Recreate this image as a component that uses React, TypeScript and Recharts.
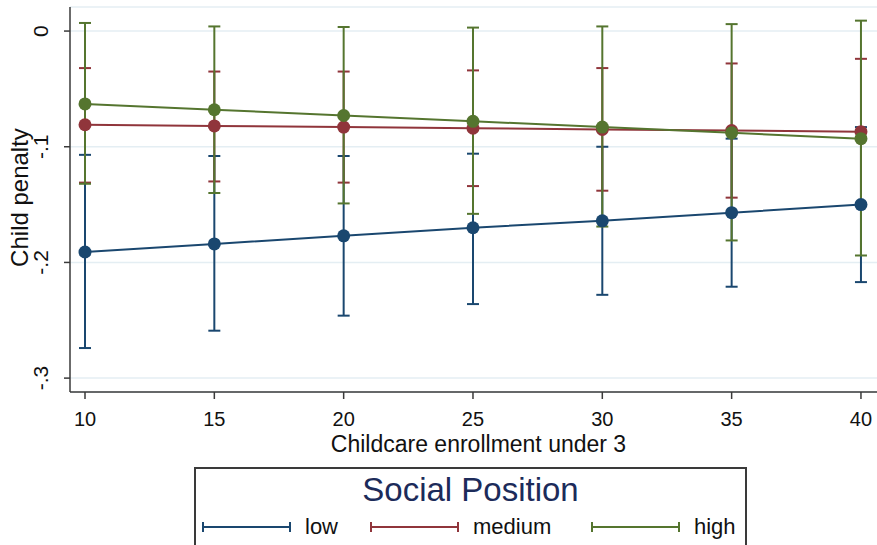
import React from 'react';
import { ComposedChart, Line, XAxis, YAxis, CartesianGrid, ErrorBar } from 'recharts';

const enrollment = [10, 15, 20, 25, 30, 35, 40];

const lowMean = [-0.191, -0.184, -0.177, -0.170, -0.164, -0.157, -0.150];
const lowLower = [-0.274, -0.259, -0.246, -0.236, -0.228, -0.221, -0.217];
const lowUpper = [-0.107, -0.108, -0.108, -0.106, -0.100, -0.093, -0.083];

const mediumMean = [-0.081, -0.082, -0.083, -0.084, -0.085, -0.086, -0.087];
const mediumLower = [-0.131, -0.130, -0.131, -0.134, -0.138, -0.144, -0.150];
const mediumUpper = [-0.032, -0.035, -0.035, -0.034, -0.032, -0.028, -0.024];

const highMean = [-0.063, -0.068, -0.073, -0.078, -0.083, -0.088, -0.093];
const highLower = [-0.132, -0.140, -0.149, -0.158, -0.169, -0.181, -0.194];
const highUpper = [0.007, 0.004, 0.0035, 0.003, 0.004, 0.006, 0.009];

const xTicks = [10, 15, 20, 25, 30, 35, 40];
const yTicks = [-0.3, -0.2, -0.1, 0];
const yTickLabels = ['-.3', '-.2', '-.1', '0'];

const xTitle = 'Childcare enrollment under 3';
const yTitle = 'Child penalty';
const legendTitle = 'Social Position';

const series = [
  { key: 'low', name: 'low', color: '#1a476f', mean: lowMean, lower: lowLower, upper: lowUpper },
  { key: 'medium', name: 'medium', color: '#90353b', mean: mediumMean, lower: mediumLower, upper: mediumUpper },
  { key: 'high', name: 'high', color: '#55752f', mean: highMean, lower: highLower, upper: highUpper },
];

const data = enrollment.map((x, i) => {
  const row: any = { x };
  series.forEach((s) => {
    row[s.key] = s.mean[i];
    row[s.key + 'Err'] = [s.mean[i] - s.lower[i], s.upper[i] - s.mean[i]];
  });
  return row;
});

const FONT = '"Liberation Sans", Arial, Helvetica, sans-serif';
const AXIS = '#3a3a3a';

const XTick = (props: any) => {
  const { x, y, payload } = props;
  return (
    <text x={x} y={y + 27} textAnchor="middle" fontSize={20} fontFamily={FONT} fill="#111">
      {String(payload.value)}
    </text>
  );
};

const YTick = (props: any) => {
  const { x, y, payload } = props;
  const idx = yTicks.findIndex((t) => Math.abs(t - payload.value) < 1e-9);
  const label = idx >= 0 ? yTickLabels[idx] : String(payload.value);
  return (
    <text
      transform={`translate(${x - 16}, ${y}) rotate(-90)`}
      textAnchor="middle"
      fontSize={21}
      fontFamily={FONT}
      fill="#111"
    >
      {label}
    </text>
  );
};

const XLabel = (props: any) => {
  const vb = props.viewBox || { x: 70, y: 392, width: 807, height: 153 };
  return (
    <text x={vb.x + vb.width / 2 + 5} y={vb.y + 60} textAnchor="middle" fontSize={23} fontFamily={FONT} fill="#111">
      {xTitle}
    </text>
  );
};

const YLabel = (props: any) => {
  const vb = props.viewBox || { x: 0, y: 7, width: 70, height: 385 };
  return (
    <text
      transform={`translate(${vb.x + 28}, ${vb.y + vb.height / 2 - 2}) rotate(-90)`}
      textAnchor="middle"
      fontSize={24}
      fontFamily={FONT}
      fill="#111"
    >
      {yTitle}
    </text>
  );
};

const legendItemX = [9, 177, 398];

const LegendBox = () => (
  <svg width={553} height={80} style={{ position: 'absolute', left: 194, top: 467 }}>
    <rect x={1} y={1} width={551} height={120} fill="#fff" stroke={AXIS} strokeWidth={2} />
    <text x={276.5} y={34} textAnchor="middle" fontSize={33} fontFamily={FONT} fill="#1c2b5a">
      {legendTitle}
    </text>
    {series.map((s, i) => {
      const x0 = legendItemX[i];
      const x1 = x0 + 87;
      return (
        <g key={s.key}>
          <line x1={x0} y1={60} x2={x1} y2={60} stroke={s.color} strokeWidth={2} />
          <line x1={x0} y1={55} x2={x0} y2={65} stroke={s.color} strokeWidth={2} />
          <line x1={x1} y1={55} x2={x1} y2={65} stroke={s.color} strokeWidth={2} />
          <text x={x1 + 15} y={67} fontSize={22} fontFamily={FONT} fill="#111">
            {s.name}
          </text>
        </g>
      );
    })}
  </svg>
);

export default function App() {
  return (
    <div
      style={{
        position: 'absolute',
        left: 0,
        top: 0,
        width: 877,
        height: 545,
        background: '#fff',
        overflow: 'hidden',
        fontFamily: FONT,
      }}
    >
      <ComposedChart width={877} height={545} data={data} margin={{ top: 7, right: 0, bottom: 0, left: 0 }}>
        <CartesianGrid vertical={false} stroke="#e4eef3" strokeWidth={1.5} />
        <XAxis
          dataKey="x"
          type="number"
          domain={[9.42, 40.62]}
          ticks={xTicks}
          allowDataOverflow
          interval={0}
          height={153}
          tickSize={7}
          tickMargin={0}
          axisLine={{ stroke: AXIS, strokeWidth: 1.5 }}
          tickLine={{ stroke: AXIS, strokeWidth: 1.5 }}
          tick={XTick}
          label={XLabel}
        />
        <YAxis
          type="number"
          domain={[-0.312, 0.0208]}
          ticks={yTicks}
          allowDataOverflow
          interval={0}
          width={70}
          tickSize={6}
          tickMargin={0}
          axisLine={{ stroke: AXIS, strokeWidth: 1.5 }}
          tickLine={{ stroke: AXIS, strokeWidth: 1.5 }}
          tick={YTick}
          label={YLabel}
        />
        {series.map((s) => (
          <Line
            key={s.key + '-ci'}
            dataKey={s.key}
            stroke="none"
            dot={false}
            activeDot={false}
            legendType="none"
            isAnimationActive={false}
          >
            <ErrorBar
              dataKey={s.key + 'Err'}
              width={6}
              stroke={s.color}
              strokeWidth={2}
              direction="y"
              isAnimationActive={false}
            />
          </Line>
        ))}
        {series.map((s) => (
          <Line
            key={s.key}
            dataKey={s.key}
            stroke={s.color}
            strokeWidth={2}
            dot={{ r: 6.5, fill: s.color, stroke: s.color, strokeWidth: 0 }}
            activeDot={false}
            isAnimationActive={false}
          />
        ))}
      </ComposedChart>
      <LegendBox />
    </div>
  );
}
